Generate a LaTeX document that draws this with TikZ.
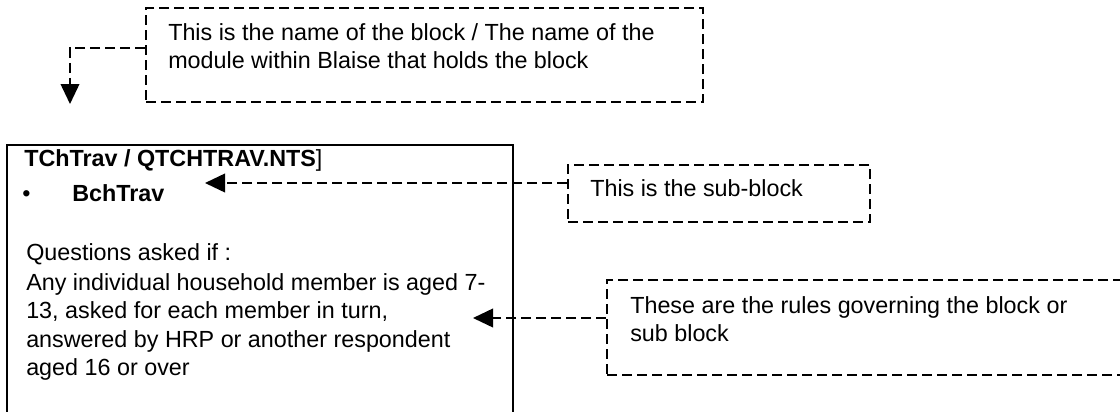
\documentclass[tikz,border=0pt]{standalone}
\usepackage{fontspec}
\setmainfont{Liberation Sans}
\usetikzlibrary{arrows.meta,fit}
\begin{document}
\begin{tikzpicture}[x=0.75pt,y=-0.75pt,
  dashbox/.style={draw,line width=1.3pt,dash pattern=on 7.5pt off 3.75pt,inner sep=0pt},
  solidbox/.style={draw,line width=1.5pt,inner sep=0pt},
  txt/.style={anchor=base west,inner sep=0pt,font=\fontsize{17.5}{20}\selectfont},
  conn/.style={line width=1.3pt,dash pattern=on 7.5pt off 3.75pt,-{Triangle[length=15pt,width=14pt]}}
]
\useasboundingbox (0,0) rectangle (1120,411);
% boxes
\node[dashbox,fit={(146,8)(703,102)}] (namebox) {};
\node[solidbox,fit={(7,145)(513,440)}] (mainbox) {};
\node[dashbox,fit={(568,165)(870,222)}] (subbox) {};
\node[dashbox,fit={(607,280)(1140,375)}] (rulebox) {};
% texts
\node[txt] (t1) at (168,40) {This is the name of the block / The name of the};
\node[txt] (t2) at (168,68) {module within Blaise that holds the block};
\node[txt] (title) at (24,166) {\textbf{TChTrav / QTCHTRAV.NTS}]};
\node[txt] (bul) at (22,201) {•};
\node[txt] (bch) at (72,201) {\textbf{BchTrav}};
\node[txt] (q0) at (26,260) {Questions asked if :};
\node[txt] (q1) at (26,290) {Any individual household member is aged 7-};
\node[txt] (q2) at (26,318.5) {13, asked for each member in turn,};
\node[txt] (q3) at (26,347) {answered by HRP or another respondent};
\node[txt] (q4) at (26,375.5) {aged 16 or over};
\node[txt] (s1) at (590,196) {This is the sub-block};
\node[txt] (r1) at (630,313) {These are the rules governing the block or};
\node[txt] (r2) at (630,341) {sub block};
% connectors
\coordinate (bendA) at (70,48);
\coordinate (tipA) at (70,104);
\coordinate (tipB) at (205,183);
\coordinate (tipC) at (473,318);
\draw[conn] (namebox.west |- bendA) -- (bendA) -- (tipA);
\draw[conn] (subbox.west |- tipB) -- (tipB);
\draw[conn] (rulebox.west |- tipC) -- (tipC);
\end{tikzpicture}
\end{document}
